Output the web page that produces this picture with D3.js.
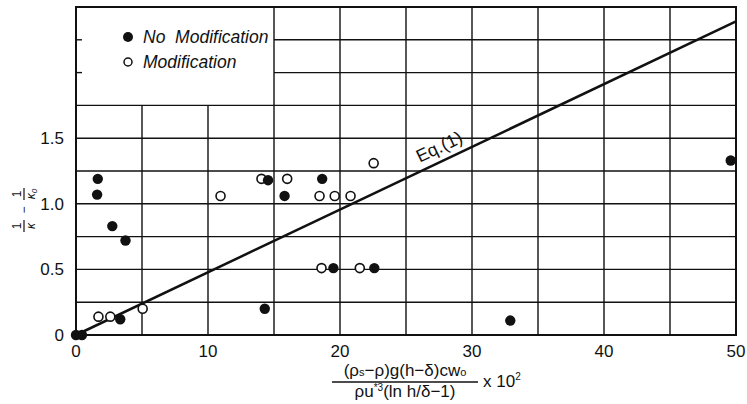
<!DOCTYPE html>
<html>
<head>
<meta charset="utf-8">
<script src="https://cdn.jsdelivr.net/npm/d3@7"></script>
<style>
  body { margin: 0; background: #fff; }
  svg text { font-family: "Liberation Sans", Arial, sans-serif; fill: #111; }
</style>
</head>
<body>
<div id="chart"></div>
<script>
// Data
var noModX = [0, 0.45, 1.6, 1.65, 2.75, 3.75, 3.35, 14.3, 14.55, 15.8, 18.65, 19.5, 22.6, 32.9, 49.6];
var noModY = [0, 0, 1.07, 1.19, 0.83, 0.72, 0.12, 0.2, 1.18, 1.06, 1.19, 0.51, 0.51, 0.11, 1.33];

var modX = [1.7, 2.6, 5.05, 10.95, 14.05, 16.0, 18.45, 19.6, 20.8, 18.6, 21.5, 22.55];
var modY = [0.14, 0.14, 0.2, 1.06, 1.19, 1.19, 1.06, 1.06, 1.06, 0.51, 0.51, 1.31];

// Eq.(1) straight line
var eqX = [0, 50];
var eqY = [0, 2.39];

var xTicks = [0, 10, 20, 30, 40, 50];
var yTicks = [0, 0.5, 1.0, 1.5];
var xGrid = [5, 10, 15, 20, 25, 30, 35, 40, 45];
var yGrid = [0.25, 0.5, 0.75, 1.0, 1.25, 1.5, 1.75, 2.0, 2.25];

var width = 747, height = 404;
var margin = { top: 7, right: 11, bottom: 69, left: 76 };

var x = d3.scaleLinear().domain([0, 50]).range([margin.left, width - margin.right]);
var y = d3.scaleLinear().domain([0, 2.5]).range([height - margin.bottom, margin.top]);

var svg = d3.select("#chart").append("svg")
    .attr("width", width)
    .attr("height", height);

// legend box occupies x < 15, y > 1.75 -> grid is cut there
var boxX = 15, boxY = 1.75;

var grid = svg.append("g").attr("stroke", "#111").attr("stroke-width", 1.4);

grid.selectAll(".vg")
    .data(xGrid)
    .join("line")
    .attr("x1", d => x(d)).attr("x2", d => x(d))
    .attr("y1", y(0))
    .attr("y2", d => d < boxX ? y(boxY) : y(2.5));

grid.selectAll(".hg")
    .data(yGrid)
    .join("line")
    .attr("y1", d => y(d)).attr("y2", d => y(d))
    .attr("x1", d => d > boxY ? x(boxX) : x(0))
    .attr("x2", x(50));

// small ticks on the left axis inside the legend box
grid.selectAll(".lt")
    .data(yGrid.filter(d => d > boxY))
    .join("line")
    .attr("y1", d => y(d)).attr("y2", d => y(d))
    .attr("x1", x(0)).attr("x2", x(0) + 6);

// frame
svg.append("rect")
    .attr("x", x(0)).attr("y", y(2.5))
    .attr("width", x(50) - x(0)).attr("height", y(0) - y(2.5))
    .attr("fill", "none").attr("stroke", "#111").attr("stroke-width", 2);

// tick labels
svg.append("g").selectAll("text")
    .data(xTicks)
    .join("text")
    .attr("x", d => x(d))
    .attr("y", y(0) + 22)
    .attr("text-anchor", "middle")
    .attr("font-size", 17)
    .text(d => d);

svg.append("g").selectAll("text")
    .data(yTicks)
    .join("text")
    .attr("x", x(0) - 12)
    .attr("y", d => y(d) + 6)
    .attr("text-anchor", "end")
    .attr("font-size", 17)
    .text(d => d === 0 ? "0" : d3.format(".1f")(d));

// Eq.(1) line
var eqData = eqX.map((d, i) => [d, eqY[i]]);
svg.append("path")
    .datum(eqData)
    .attr("fill", "none")
    .attr("stroke", "#111")
    .attr("stroke-width", 2.5)
    .attr("d", d3.line().x(d => x(d[0])).y(d => y(d[1])));

var ang = Math.atan2(y(eqY[1]) - y(eqY[0]), x(eqX[1]) - x(eqX[0])) * 180 / Math.PI;
var lx = 26.3, ly = eqY[1] / eqX[1] * lx;
svg.append("text")
    .attr("transform", "translate(" + x(lx) + "," + y(ly) + ") rotate(" + ang + ") translate(0,-8)")
    .attr("font-size", 18)
    .text("Eq.(1)");

// points
svg.append("g").selectAll("circle")
    .data(modX.map((d, i) => [d, modY[i]]))
    .join("circle")
    .attr("cx", d => x(d[0])).attr("cy", d => y(d[1]))
    .attr("r", 4.5)
    .attr("fill", "#fff").attr("stroke", "#111").attr("stroke-width", 1.6);

svg.append("g").selectAll("circle")
    .data(noModX.map((d, i) => [d, noModY[i]]))
    .join("circle")
    .attr("cx", d => x(d[0])).attr("cy", d => y(d[1]))
    .attr("r", 5.2)
    .attr("fill", "#111");

// legend
var leg = svg.append("g").attr("transform", "translate(128,37)");
leg.append("circle").attr("r", 5).attr("fill", "#111");
leg.append("text").attr("x", 15).attr("y", 6).attr("font-size", 17.5)
    .attr("font-style", "italic").style("white-space", "pre").text("No  Modification");
leg.append("circle").attr("cy", 25).attr("r", 4).attr("fill", "#fff")
    .attr("stroke", "#111").attr("stroke-width", 1.5);
leg.append("text").attr("x", 15).attr("y", 31).attr("font-size", 17.5)
    .attr("font-style", "italic").text("Modification");

// y axis label: 1/κ − 1/κ0 rotated
var yl = svg.append("g").attr("transform", "translate(24,210) rotate(-90)");
function frac(g, cx, num, den, sub) {
    g.append("line").attr("x1", cx - 6).attr("x2", cx + 6)
        .attr("y1", 0).attr("y2", 0).attr("stroke", "#111").attr("stroke-width", 1.2);
    g.append("text").attr("x", cx).attr("y", -3).attr("text-anchor", "middle")
        .attr("font-size", 12).text(num);
    var t = g.append("text").attr("x", cx).attr("y", 11).attr("text-anchor", "middle")
        .attr("font-size", 12).attr("font-style", "italic").text(den);
    if (sub) t.append("tspan").attr("font-size", 8).attr("dy", 2).text(sub);
}
frac(yl, -16, "1", "κ");
yl.append("text").attr("x", 0).attr("y", 4).attr("text-anchor", "middle")
    .attr("font-size", 12).text("−");
frac(yl, 16, "1", "κ", "0");

// x axis label
var xl = svg.append("g").attr("transform", "translate(405,382)");
xl.append("line").attr("x1", -73).attr("x2", 73).attr("y1", 0).attr("y2", 0)
    .attr("stroke", "#111").attr("stroke-width", 1.4);
var num = xl.append("text").attr("x", 0).attr("y", -6).attr("text-anchor", "middle")
    .attr("font-size", 17);
num.append("tspan").text("(ρ");
num.append("tspan").attr("font-size", 11).text("s");
num.append("tspan").text("−ρ)g(h−δ)cw");
num.append("tspan").attr("font-size", 11).text("o");
var den = xl.append("text").attr("x", 0).attr("y", 15).attr("text-anchor", "middle")
    .attr("font-size", 17);
den.append("tspan").text("ρu");
den.append("tspan").attr("font-size", 10).attr("dy", -6).text("*3");
den.append("tspan").attr("dy", 6).text("(ln h/δ−1)");
var xs = xl.append("text").attr("x", 78).attr("y", 5).attr("font-size", 17);
xs.append("tspan").text("x 10");
xs.append("tspan").attr("font-size", 10).attr("dy", -7).text("2");
</script>
</body>
</html>
